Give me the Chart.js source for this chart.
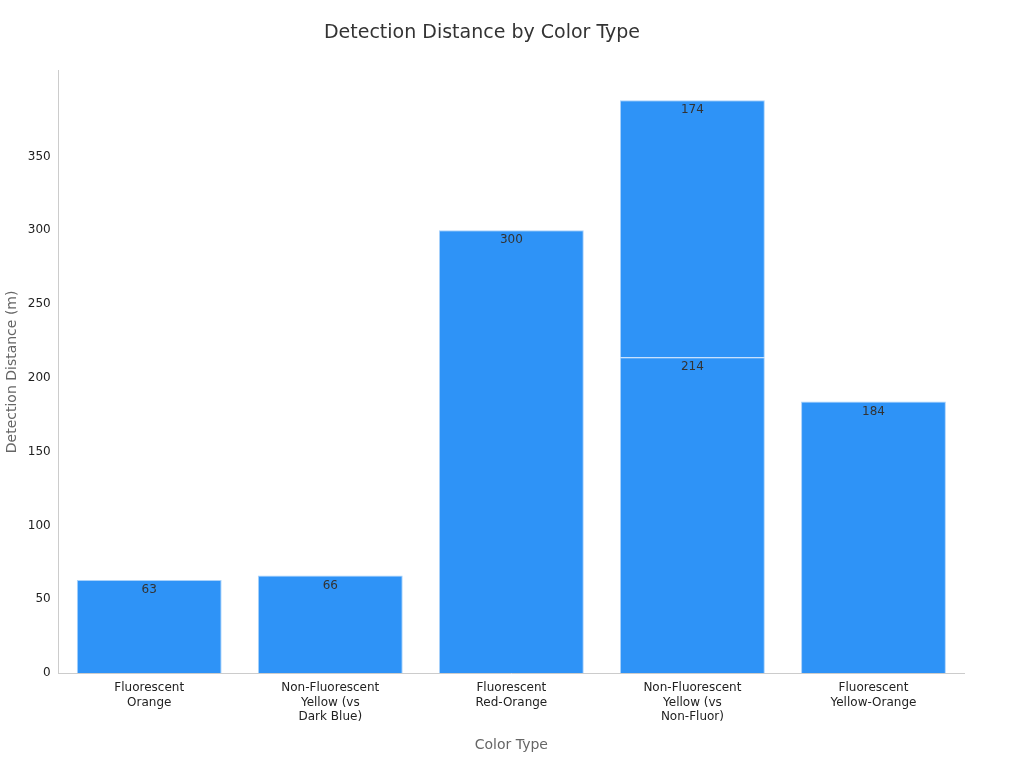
<!DOCTYPE html>
<html>
<head>
<meta charset="utf-8">
<script src="https://cdn.jsdelivr.net/npm/chart.js@4"></script>
<style>
  html, body { margin: 0; padding: 0; background: #fff; }
  #wrap { width: 1024px; height: 768px; }
</style>
</head>
<body>
<div id="wrap"><canvas id="chart" width="1024" height="768"></canvas></div>
<script>
const categories = [
  ['Fluorescent', 'Orange'],
  ['Non-Fluorescent', 'Yellow (vs', 'Dark Blue)'],
  ['Fluorescent', 'Red-Orange'],
  ['Non-Fluorescent', 'Yellow (vs', 'Non-Fluor)'],
  ['Fluorescent', 'Yellow-Orange']
];
const baseValues = [63, 66, 300, 214, 184];
const extraValues = [null, null, null, 174, null];

Chart.defaults.font.family = 'DejaVu Sans, sans-serif';
Chart.defaults.color = '#222';

// draws each segment's value just under its top edge
const valueLabels = {
  id: 'valueLabels',
  afterDatasetsDraw(chart) {
    const ctx = chart.ctx;
    ctx.save();
    ctx.font = '12px DejaVu Sans, sans-serif';
    ctx.fillStyle = '#333';
    ctx.textAlign = 'center';
    ctx.textBaseline = 'top';
    chart.data.datasets.forEach((ds, i) => {
      chart.getDatasetMeta(i).data.forEach((bar, j) => {
        if (ds.data[j] == null) return;
        ctx.fillText(ds.data[j], bar.x, bar.y + 4);
      });
    });
    ctx.restore();
  }
};

new Chart(document.getElementById('chart'), {
  type: 'bar',
  data: {
    labels: categories,
    datasets: [
      { data: baseValues, backgroundColor: '#2e93f7', borderColor: '#a9d2fb', borderWidth: 1 },
      { data: extraValues, backgroundColor: '#2e93f7', borderColor: '#a9d2fb', borderWidth: 1 }
    ]
  },
  options: {
    responsive: false,
    animation: false,
    layout: { padding: { left: 0, right: 60, top: 10, bottom: 10 } },
    barPercentage: 0.8,
    categoryPercentage: 1,
    plugins: {
      legend: { display: false },
      tooltip: { enabled: false },
      title: {
        display: true,
        text: 'Detection Distance by Color Type',
        color: '#333',
        font: { size: 19, weight: 'normal' },
        padding: { top: 12, bottom: 26 }
      }
    },
    scales: {
      x: {
        stacked: true,
        grid: { display: false, drawTicks: true, tickLength: 5 },
        border: { color: '#ccc' },
        ticks: { font: { size: 12 }, color: '#222' },
        title: { display: true, text: 'Color Type', color: '#666', font: { size: 14 }, padding: { top: 10 } }
      },
      y: {
        stacked: true,
        min: 0,
        max: 408,
        grid: { display: false, drawTicks: true, tickLength: 5 },
        border: { color: '#ccc' },
        ticks: {
          stepSize: 50,
          font: { size: 12 },
          color: '#222',
          callback: v => (v % 50 === 0 ? v : null)
        },
        title: { display: true, text: 'Detection Distance (m)', color: '#666', font: { size: 14 } }
      }
    }
  },
  plugins: [valueLabels]
});
</script>
</body>
</html>
